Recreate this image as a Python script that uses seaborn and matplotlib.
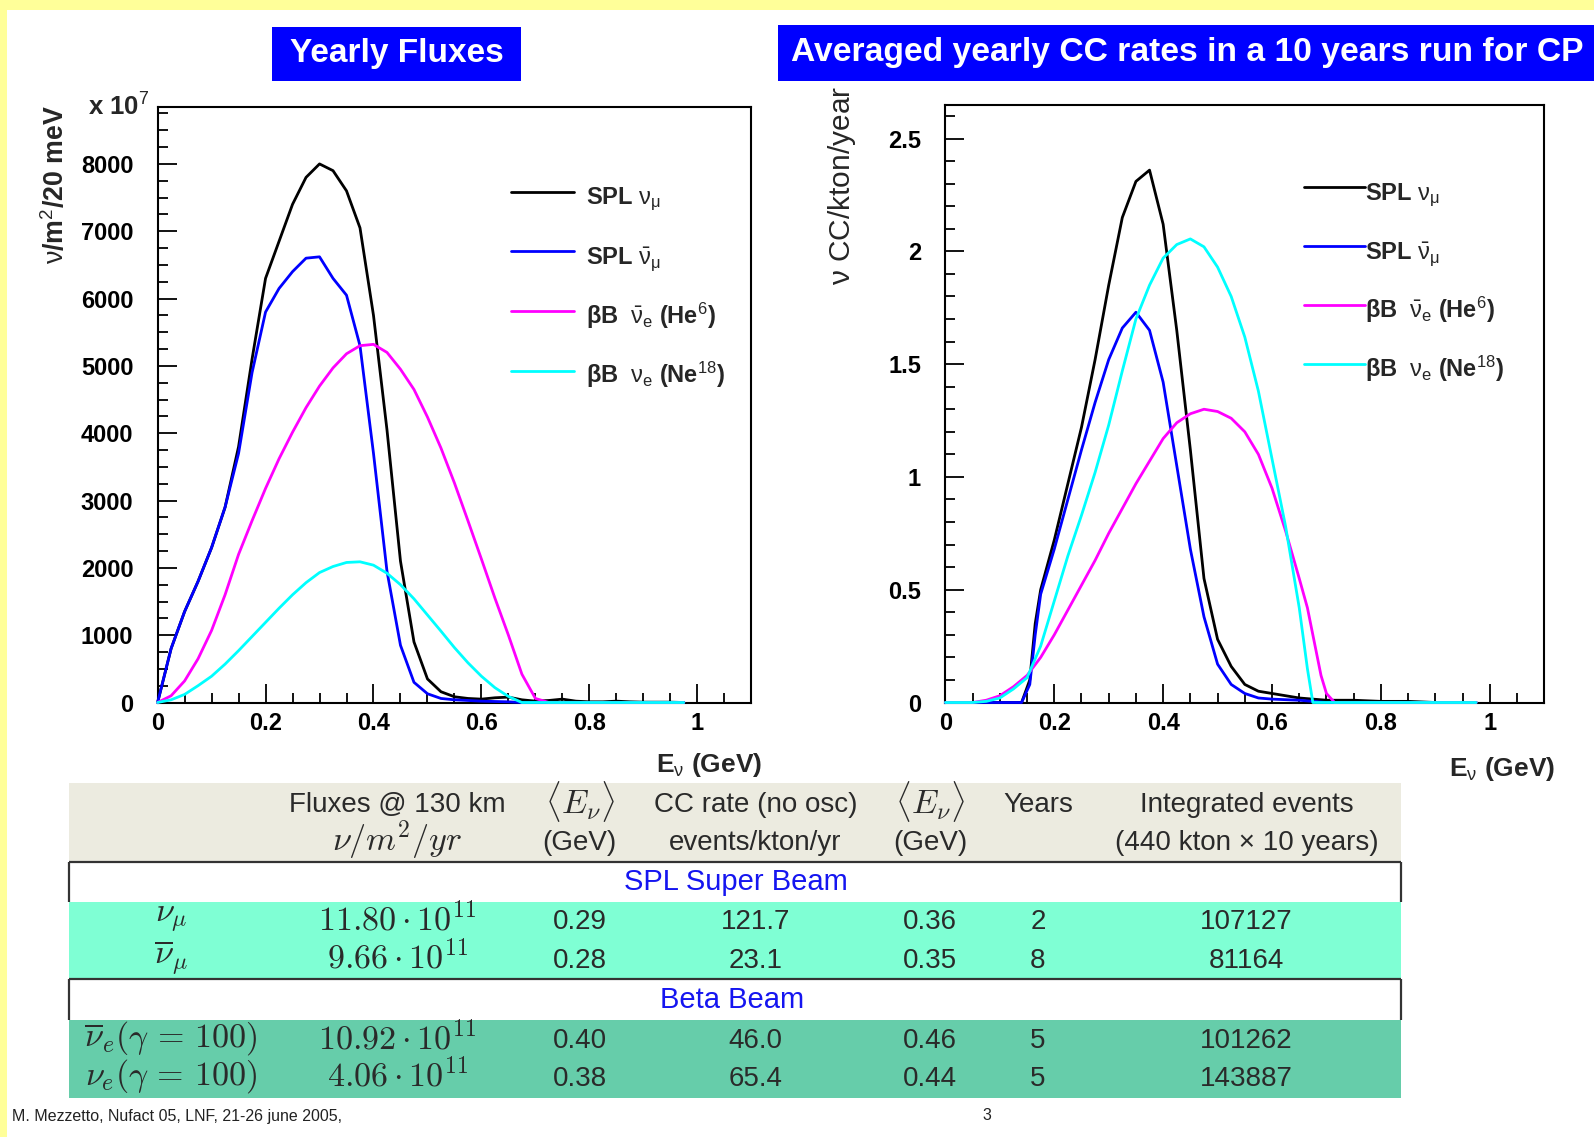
import matplotlib
matplotlib.use("Agg")
import matplotlib.pyplot as plt
from matplotlib.patches import Rectangle
from matplotlib.ticker import MultipleLocator, FormatStrFormatter
import numpy as np
import pandas as pd
import seaborn as sns

sns.set_style("ticks")
plt.rcParams["font.family"] = ["Liberation Sans", "DejaVu Sans"]
plt.rcParams["mathtext.fontset"] = "custom"
plt.rcParams["mathtext.rm"] = "Liberation Sans"
plt.rcParams["mathtext.it"] = "Liberation Sans:italic"
plt.rcParams["mathtext.bf"] = "Liberation Sans:bold"

# ---------------- yearly fluxes (x 1e7 nu / m^2 / 20 MeV) ----------------
flux_E = [0.000, 0.025, 0.050, 0.075, 0.100, 0.125, 0.150, 0.175, 0.200, 0.225,
          0.250, 0.275, 0.300, 0.325, 0.350, 0.375, 0.400, 0.425, 0.450, 0.475,
          0.500, 0.525, 0.550, 0.575, 0.600, 0.625, 0.650, 0.675, 0.700, 0.725,
          0.750, 0.775, 0.800, 0.825, 0.850, 0.875, 0.900, 0.925, 0.950, 0.975]
flux_spl_numu = [0, 800, 1350, 1800, 2300, 2900, 3800, 5100, 6300, 6850,
                 7400, 7800, 8000, 7900, 7600, 7050, 5750, 4050, 2100, 900,
                 350, 160, 85, 60, 50, 70, 80, 40, 20, 30,
                 50, 20, 10, 10, 20, 10, 5, 5, 5, 0]
flux_spl_numubar = [0, 800, 1350, 1800, 2300, 2900, 3700, 4900, 5800, 6150,
                    6400, 6600, 6620, 6300, 6050, 5300, 3700, 1950, 850, 300,
                    130, 60, 40, 30, 20, 15, 10, 0, 0, 0,
                    0, 0, 0, 0, 0, 0, 0, 0, 0, 0]
flux_bb_nuebar = [0, 100, 320, 650, 1070, 1600, 2200, 2700, 3180, 3620,
                  4015, 4380, 4700, 4970, 5180, 5300, 5320, 5200, 4950, 4650,
                  4240, 3780, 3260, 2700, 2130, 1550, 1000, 420, 60, 0,
                  0, 0, 0, 0, 0, 0, 0, 0, 0, 0]
flux_bb_nue = [0, 40, 120, 250, 390, 570, 770, 980, 1190, 1400,
               1600, 1780, 1930, 2020, 2080, 2090, 2040, 1920, 1750, 1540,
               1300, 1060, 815, 590, 390, 220, 90, 0, 0, 0,
               0, 0, 0, 0, 0, 0, 0, 0, 0, 0]

# ---------------- CC rates (nu CC / kton / year) ----------------
rate_E_spl = [0.0, 0.05, 0.1, 0.125, 0.14, 0.155, 0.165, 0.175, 0.2, 0.225,
              0.25, 0.275, 0.3, 0.325, 0.35, 0.375, 0.4, 0.425, 0.45, 0.475,
              0.5, 0.525, 0.55, 0.575, 0.6, 0.65, 0.7, 0.75, 0.8, 0.85, 0.9, 0.975]
rate_spl_numu = [0, 0, 0, 0, 0.0, 0.1, 0.35, 0.5, 0.72, 0.97,
                 1.22, 1.52, 1.85, 2.15, 2.31, 2.36, 2.12, 1.65, 1.12, 0.55,
                 0.28, 0.16, 0.08, 0.05, 0.04, 0.02, 0.01, 0.01, 0.005, 0.005, 0, 0]
rate_spl_numubar = [0, 0, 0, 0, 0.0, 0.08, 0.3, 0.48, 0.68, 0.9,
                    1.12, 1.33, 1.52, 1.66, 1.73, 1.65, 1.42, 1.05, 0.68, 0.38,
                    0.17, 0.08, 0.04, 0.02, 0.015, 0.01, 0, 0, 0, 0, 0, 0]
rate_E_bb = [0.0, 0.05, 0.075, 0.1, 0.125, 0.15, 0.175, 0.2, 0.225, 0.25,
             0.275, 0.3, 0.325, 0.35, 0.375, 0.4, 0.425, 0.45, 0.475, 0.5,
             0.525, 0.55, 0.575, 0.6, 0.625, 0.65, 0.665, 0.675, 0.69, 0.7,
             0.715, 0.8, 0.9, 0.975]
rate_bb_nuebar = [0, 0.0, 0.01, 0.03, 0.07, 0.12, 0.2, 0.3, 0.41, 0.52,
                  0.63, 0.75, 0.86, 0.97, 1.07, 1.17, 1.24, 1.28, 1.30, 1.29,
                  1.26, 1.2, 1.1, 0.95, 0.76, 0.55, 0.42, 0.3, 0.12, 0.04,
                  0.0, 0, 0, 0]
rate_bb_nue = [0, 0, 0.005, 0.02, 0.06, 0.11, 0.25, 0.45, 0.65, 0.83,
               1.02, 1.23, 1.47, 1.7, 1.85, 1.97, 2.03, 2.055, 2.02, 1.93,
               1.8, 1.62, 1.38, 1.08, 0.78, 0.42, 0.15, 0.0, 0, 0,
               0, 0, 0, 0]

beam_keys = ["spl_numu", "spl_numubar", "bb_nuebar", "bb_nue"]
beam_colors = {"spl_numu": "#000000", "spl_numubar": "#0000FF",
               "bb_nuebar": "#FF00FF", "bb_nue": "#00FFFF"}
flux_legend = [r"SPL $\mathrm{\nu}_{\mathrm{\mu}}$",
               r"SPL $\bar{\mathrm{\nu}}_{\mathrm{\mu}}$",
               r"βB  $\bar{\mathrm{\nu}}_{\mathrm{e}}$ (He$^{6}$)",
               r"βB  $\mathrm{\nu}_{\mathrm{e}}$ (Ne$^{18}$)"]

# ---------------- summary table ----------------
row_labels = [r"$\nu_\mu$", r"$\overline{\nu}_\mu$",
              r"$\overline{\nu}_e(\gamma\,=\,100)$", r"$\nu_e(\gamma\,=\,100)$"]
flux_coef = [11.80, 9.66, 10.92, 4.06]
flux_mean_E = [0.29, 0.28, 0.40, 0.38]
cc_rate = [121.7, 23.1, 46.0, 65.4]
cc_mean_E = [0.36, 0.35, 0.46, 0.44]
run_years = [2, 8, 5, 5]
integrated_events = [107127, 81164, 101262, 143887]

flux_df = pd.DataFrame({
    "E": flux_E * 4,
    "value": flux_spl_numu + flux_spl_numubar + flux_bb_nuebar + flux_bb_nue,
    "beam": sum([[k] * len(flux_E) for k in beam_keys], []),
})
rate_df = pd.DataFrame({
    "E": rate_E_spl * 2 + rate_E_bb * 2,
    "value": rate_spl_numu + rate_spl_numubar + rate_bb_nuebar + rate_bb_nue,
    "beam": ["spl_numu"] * len(rate_E_spl) + ["spl_numubar"] * len(rate_E_spl)
            + ["bb_nuebar"] * len(rate_E_bb) + ["bb_nue"] * len(rate_E_bb),
})

W, H = 1594, 1137
fig = plt.figure(figsize=(W / 100, H / 100), dpi=100, facecolor="white")

# slide decorations in pixel coordinates
deco = fig.add_axes([0, 0, 1, 1])
deco.set_xlim(0, W)
deco.set_ylim(H, 0)
deco.axis("off")
deco.add_patch(Rectangle((0, 0), W, 10, color="#FFFF99", lw=0))
deco.add_patch(Rectangle((0, 0), 7, H, color="#FFFF99", lw=0))

deco.add_patch(Rectangle((272, 27.4), 249.5, 53.9, color="#0000FF", lw=0))
deco.text(396.7, 53.5, "Yearly Fluxes", color="white", weight="bold",
          size=24, ha="center", va="center")
deco.add_patch(Rectangle((777.7, 25.4), W - 777.7, 55.9, color="#0000FF", lw=0))
deco.text(791, 52.5, "Averaged yearly CC rates in a 10 years run for CP",
          color="white", weight="bold", size=24.2, ha="left", va="center")


def style_axes(ax, ymajor, yminor, yfmt, ymax):
    ax.set_xlim(0, 1.1)
    ax.set_ylim(0, ymax)
    ax.xaxis.set_major_locator(MultipleLocator(0.2))
    ax.xaxis.set_minor_locator(MultipleLocator(0.05))
    ax.yaxis.set_major_locator(MultipleLocator(ymajor))
    ax.yaxis.set_minor_locator(MultipleLocator(yminor))
    ax.xaxis.set_major_formatter(FormatStrFormatter("%g"))
    ax.yaxis.set_major_formatter(FormatStrFormatter(yfmt))
    ax.tick_params(which="both", direction="in", top=False, right=False,
                   width=1.3, colors="black", labelsize=17)
    ax.tick_params(which="major", length=13.5)
    ax.tick_params(which="minor", length=7)
    ax.tick_params(axis="x", which="major", pad=7)
    ax.tick_params(axis="y", which="major", pad=17.5)
    for s in ax.spines.values():
        s.set_linewidth(1.5)
        s.set_color("black")
    for lbl in ax.get_xticklabels() + ax.get_yticklabels():
        lbl.set_fontweight("bold")
    ax.set_xlabel("")
    ax.set_ylabel("")


# ---- left panel: fluxes ----
ax1 = fig.add_axes([157.6 / W, 1 - 702.5 / H, (751.3 - 157.6) / W, (702.5 - 106.7) / H])
sns.lineplot(data=flux_df, x="E", y="value", hue="beam", hue_order=beam_keys,
             palette=beam_colors, estimator=None, sort=False, legend=False,
             linewidth=2.0, ax=ax1, zorder=3, clip_on=False)
style_axes(ax1, 1000, 250, "%d", 8850)
ax1.legend(handles=ax1.lines[:4], labels=flux_legend, loc="upper left",
           bbox_to_anchor=(0.595, 0.879), frameon=False, borderpad=0,
           borderaxespad=0, handlelength=2.67, handleheight=2.0,
           handletextpad=0.52, labelspacing=0.98,
           prop={"weight": "bold", "size": 17})
ax1.text(-0.0136, 0.985, r"x 10$^{7}$", transform=ax1.transAxes,
         ha="right", va="baseline", weight="bold", size=18.5)
ax1.text(-0.171, 1.003, r"$\mathrm{\nu}$/m$^{2}$/20 meV", transform=ax1.transAxes,
         rotation=90, ha="center", va="top", weight="bold", size=19.3)
ax1.text(1.018, -0.1057, r"E$_{\mathrm{\nu}}$ (GeV)", transform=ax1.transAxes,
         ha="right", va="center", weight="bold", size=19)

# ---- right panel: CC rates ----
ax2 = fig.add_axes([945.4 / W, 1 - 702.5 / H, (1544.2 - 945.4) / W, (702.5 - 104.7) / H])
sns.lineplot(data=rate_df, x="E", y="value", hue="beam", hue_order=beam_keys,
             palette=beam_colors, estimator=None, sort=False, legend=False,
             linewidth=2.0, ax=ax2, zorder=3, clip_on=False)
style_axes(ax2, 0.5, 0.1, "%g", 2.65)
ax2.legend(handles=ax2.lines[:4], labels=flux_legend, loc="upper left",
           bbox_to_anchor=(0.5987, 0.884), frameon=False, borderpad=0,
           borderaxespad=0, handlelength=2.6, handleheight=2.0,
           handletextpad=0.0, labelspacing=0.95,
           prop={"weight": "bold", "size": 17})
ax2.text(-0.1727, 1.031, r"$\mathrm{\nu}$ CC/kton/year", transform=ax2.transAxes,
         rotation=90, ha="center", va="top", size=21.5)
ax2.text(1.018, -0.112, r"E$_{\mathrm{\nu}}$ (GeV)", transform=ax2.transAxes,
         ha="right", va="center", weight="bold", size=19)

# ---- table ----
tx0, tx1 = 69.1, 1400.9
deco.add_patch(Rectangle((tx0, 782.8), tx1 - tx0, 862 - 782.8, color="#ECEBE0", lw=0))
deco.add_patch(Rectangle((tx0, 901.7), tx1 - tx0, 979 - 901.7, color="#7FFFD4", lw=0))
deco.add_patch(Rectangle((tx0, 1019.7), tx1 - tx0, 1098 - 1019.7, color="#66CDAA", lw=0))
deco.hlines([862, 979], tx0, tx1, color="#333333", lw=1.6)
deco.vlines([tx0, tx1], 862, 901.7, color="#333333", lw=1.6)
deco.vlines([tx0, tx1], 979, 1019.7, color="#333333", lw=1.6)

txt_c = "#2a2a2a"
sans_size = 20
cm_size = 24.5
col_x = [171, 397.5, 579.5, 755.3, 930.2, 1038, 1246.4]
hdr1 = ["Fluxes @ 130 km", r"$\langle E_\nu\rangle$", "CC rate (no osc)",
        r"$\langle E_\nu\rangle$", "Years", "Integrated events"]
hdr2 = [r"$\nu/m^2/yr$", "(GeV)", "events/kton/yr", "(GeV)", "",
        "(440 kton × 10 years)"]


def cell(x, y, s):
    is_math = s.startswith("$")
    deco.text(x, y if is_math else y + 3, s, ha="center", va="center",
              size=cm_size if is_math else sans_size, color=txt_c,
              math_fontfamily="cm")


for cx, t1, t2 in zip(col_x[1:], hdr1, hdr2):
    cell(cx, 802, t1)
    if t2:
        cell(cx, 839.7, t2)

deco.text(736, 882, "SPL Super Beam", ha="center", va="center", size=21,
          color="#1515F0")
deco.text(732, 1000.3, "Beta Beam", ha="center", va="center", size=21,
          color="#1515F0")

row_y = [919, 957.6, 1038, 1075.6]
for i, y in enumerate(row_y):
    cells = [row_labels[i],
             r"$%.2f\cdot10^{11}$" % flux_coef[i],
             "%.2f" % flux_mean_E[i],
             "%.1f" % cc_rate[i],
             "%.2f" % cc_mean_E[i],
             "%d" % run_years[i],
             "%d" % integrated_events[i]]
    for cx, c in zip(col_x, cells):
        cell(cx, y, c)

deco.text(12, 1116, "M. Mezzetto, Nufact 05, LNF, 21-26 june 2005,",
          ha="left", va="center", size=11.5, color="#222222")
deco.text(987, 1116, "3", ha="center", va="center", size=11.5, color="#222222")

fig.savefig("out.png", dpi=100, facecolor="white")
